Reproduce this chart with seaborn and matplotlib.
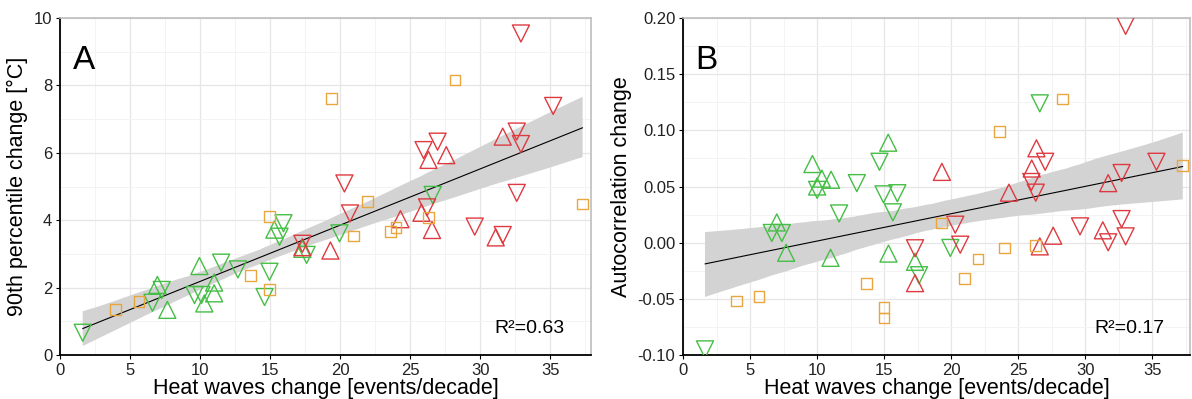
import numpy as np
import pandas as pd
import matplotlib
matplotlib.use("Agg")
import matplotlib.pyplot as plt
from matplotlib.ticker import MultipleLocator, FuncFormatter
import seaborn as sns

# ---------------- Panel A data ----------------
a_gup_x = [6.95, 7.66, 9.95, 10.3, 11.0, 11.0, 15.3, 17.3]
a_gup_y = [2.08, 1.34, 2.64, 1.53, 2.15, 1.83, 3.72, 3.15]
a_gdn_x = [1.62, 7.26, 6.6, 9.6, 10.1, 11.5, 12.7, 14.95, 14.6, 15.95, 15.67, 17.6, 19.95, 26.6]
a_gdn_y = [0.66, 1.93, 1.55, 1.78, 1.78, 2.74, 2.54, 2.47, 1.72, 3.91, 3.51, 2.97, 3.61, 4.75]
a_rup_x = [17.3, 19.3, 24.3, 25.8, 26.55, 26.3, 27.57, 31.1, 31.6]
a_rup_y = [3.2, 3.1, 4.03, 4.22, 3.71, 5.79, 5.93, 3.49, 6.48]
a_rdn_x = [17.3, 20.3, 20.7, 25.95, 26.95, 26.2, 29.6, 31.6, 32.6, 32.6, 32.9, 32.9, 35.2]
a_rdn_y = [3.3, 5.09, 4.2, 6.08, 6.33, 4.38, 3.81, 3.56, 4.81, 6.63, 6.26, 9.54, 7.39]
a_osq_x = [3.98, 5.64, 13.6, 14.95, 14.95, 19.4, 20.95, 21.95, 23.6, 23.98, 26.3, 28.2, 37.3]
a_osq_y = [1.34, 1.58, 2.36, 4.12, 1.95, 7.62, 3.53, 4.55, 3.66, 3.79, 4.08, 8.16, 4.48]

# ---------------- Panel B data ----------------
b_gup_x = [6.99, 7.69, 9.65, 10.0, 10.35, 11.04, 11.0, 15.3, 15.32, 17.3]
b_gup_y = [0.018, -0.009, 0.070, 0.050, 0.057, 0.056, -0.0135, 0.089, -0.0097, -0.017]
b_gdn_x = [1.64, 6.62, 7.37, 10.0, 12.96, 11.64, 14.65, 14.95, 15.98, 15.65, 17.6, 19.93, 26.6]
b_gdn_y = [-0.095, 0.0086, 0.0086, 0.047, 0.053, 0.026, 0.072, 0.043, 0.044, 0.027, -0.029, -0.0047, 0.124]
b_rup_x = [17.3, 19.3, 24.3, 26.0, 26.35, 26.6, 27.6, 31.3, 31.7]
b_rup_y = [-0.036, 0.063, 0.0445, 0.066, 0.084, -0.0033, 0.0062, 0.011, 0.053]
b_rdn_x = [17.3, 27.0, 25.97, 26.3, 32.7, 35.3, 33.0, 20.3, 20.67, 29.6, 31.7, 32.7, 33.0]
b_rdn_y = [-0.005, 0.072, 0.054, 0.0445, 0.062, 0.072, 0.193, 0.016, -0.0018, 0.0145, 0.0003, 0.021, 0.0056]
b_osq_x = [4.0, 5.67, 13.66, 14.98, 14.98, 23.6, 28.3, 37.26, 19.3, 23.96, 26.3, 22.0, 21.0]
b_osq_y = [-0.052, -0.048, -0.0366, -0.058, -0.067, 0.099, 0.128, 0.069, 0.0174, -0.0047, -0.0024, -0.0145, -0.032]

x_ticks = [0, 5, 10, 15, 20, 25, 30, 35]
labels = ["A", "B"]
r2_text = ["R\u00b2=0.63", "R\u00b2=0.17"]
y_titles = ["90th percentile change [\u00b0C]", "Autocorrelation change"]
x_title = "Heat waves change [events/decade]"

GREEN = "#45BE45"
RED = "#DE3A40"
ORANGE = "#EAA63E"

sns.set_theme(style="white")
plt.rcParams["font.family"] = ["Liberation Sans", "DejaVu Sans"]
plt.rcParams["axes.unicode_minus"] = False


def build(gupx, gupy, gdnx, gdny, rupx, rupy, rdnx, rdny, osqx, osqy):
    frames = []
    for xs, ys, g in [(gupx, gupy, "gup"), (gdnx, gdny, "gdn"), (rupx, rupy, "rup"),
                      (rdnx, rdny, "rdn"), (osqx, osqy, "osq")]:
        frames.append(pd.DataFrame({"x": xs, "y": ys, "g": g}))
    return pd.concat(frames, ignore_index=True)


dfa = build(a_gup_x, a_gup_y, a_gdn_x, a_gdn_y, a_rup_x, a_rup_y,
            a_rdn_x, a_rdn_y, a_osq_x, a_osq_y)
dfb = build(b_gup_x, b_gup_y, b_gdn_x, b_gdn_y, b_rup_x, b_rup_y,
            b_rdn_x, b_rdn_y, b_osq_x, b_osq_y)

fig = plt.figure(figsize=(11.92, 3.99), dpi=100)
axA = fig.add_axes([60 / 1192, 44 / 399, 531 / 1192, 337 / 399])
axB = fig.add_axes([683 / 1192, 44 / 399, 507 / 1192, 337 / 399])

styles = {
    "gup": dict(marker="^", color=GREEN, s=150),
    "gdn": dict(marker="v", color=GREEN, s=150),
    "rup": dict(marker="^", color=RED, s=150),
    "rdn": dict(marker="v", color=RED, s=150),
    "osq": dict(marker="s", color=ORANGE, s=60),
}

for ax, df, i in [(axA, dfa, 0), (axB, dfb, 1)]:
    ax.set_facecolor("white")
    ax.set_axisbelow(True)
    sns.regplot(data=df, x="x", y="y", ax=ax, scatter=False, ci=95,
                color="#CFCFCF",
                line_kws=dict(color="black", lw=0.8))
    for coll in ax.collections:
        coll.set_facecolor("#D3D3D3")
        coll.set_alpha(1.0)
        coll.set_edgecolor("none")
        coll.set_zorder(1)
    for ln in ax.lines:
        ln.set_zorder(2)
    for g, st in styles.items():
        sub = df[df["g"] == g]
        sns.scatterplot(data=sub, x="x", y="y", ax=ax, marker=st["marker"],
                        s=st["s"], facecolors="none", edgecolor=st["color"],
                        linewidth=1.0, zorder=3, legend=False)

    ax.set_xticks(x_ticks)
    ax.xaxis.set_minor_locator(MultipleLocator(2.5))
    ax.grid(True, which="major", color="#E6E6E6", lw=0.9)
    ax.grid(True, which="minor", color="#F3F3F3", lw=0.7)
    for side in ["top", "right"]:
        ax.spines[side].set_color("#BDBDBD")
        ax.spines[side].set_linewidth(1.2)
    for side in ["left", "bottom"]:
        ax.spines[side].set_color("black")
        ax.spines[side].set_linewidth(1.3)
    ax.tick_params(axis="both", which="major", direction="out", length=3,
                   width=0.8, color="black", labelsize=12, labelcolor="#222222",
                   bottom=True, left=True, pad=2.5)
    ax.tick_params(axis="both", which="minor", length=0)
    ax.set_xlabel(x_title, fontsize=15.5, labelpad=0, color="black")
    ax.set_ylabel(y_titles[i], fontsize=15.5, labelpad=4, color="black")
    ax.text(0.025, 0.92, labels[i], transform=ax.transAxes, fontsize=24,
            ha="left", va="top", color="black")
    ax.text(0.95, 0.08, r2_text[i], transform=ax.transAxes, fontsize=14,
            ha="right", va="center", color="black")

axA.set_xlim(0, 37.9)
axA.set_ylim(0, 10)
axA.set_yticks([0, 2, 4, 6, 8, 10])
axA.yaxis.set_minor_locator(MultipleLocator(1))

axB.set_xlim(0, 37.8)
axB.set_ylim(-0.10, 0.20)
axB.set_yticks([-0.10, -0.05, 0.00, 0.05, 0.10, 0.15, 0.20])
axB.yaxis.set_minor_locator(MultipleLocator(0.025))
axB.yaxis.set_major_formatter(FuncFormatter(lambda v, p: f"{v:.2f}".replace("-0.00", "0.00")))

fig.savefig("out.png", dpi=100)
